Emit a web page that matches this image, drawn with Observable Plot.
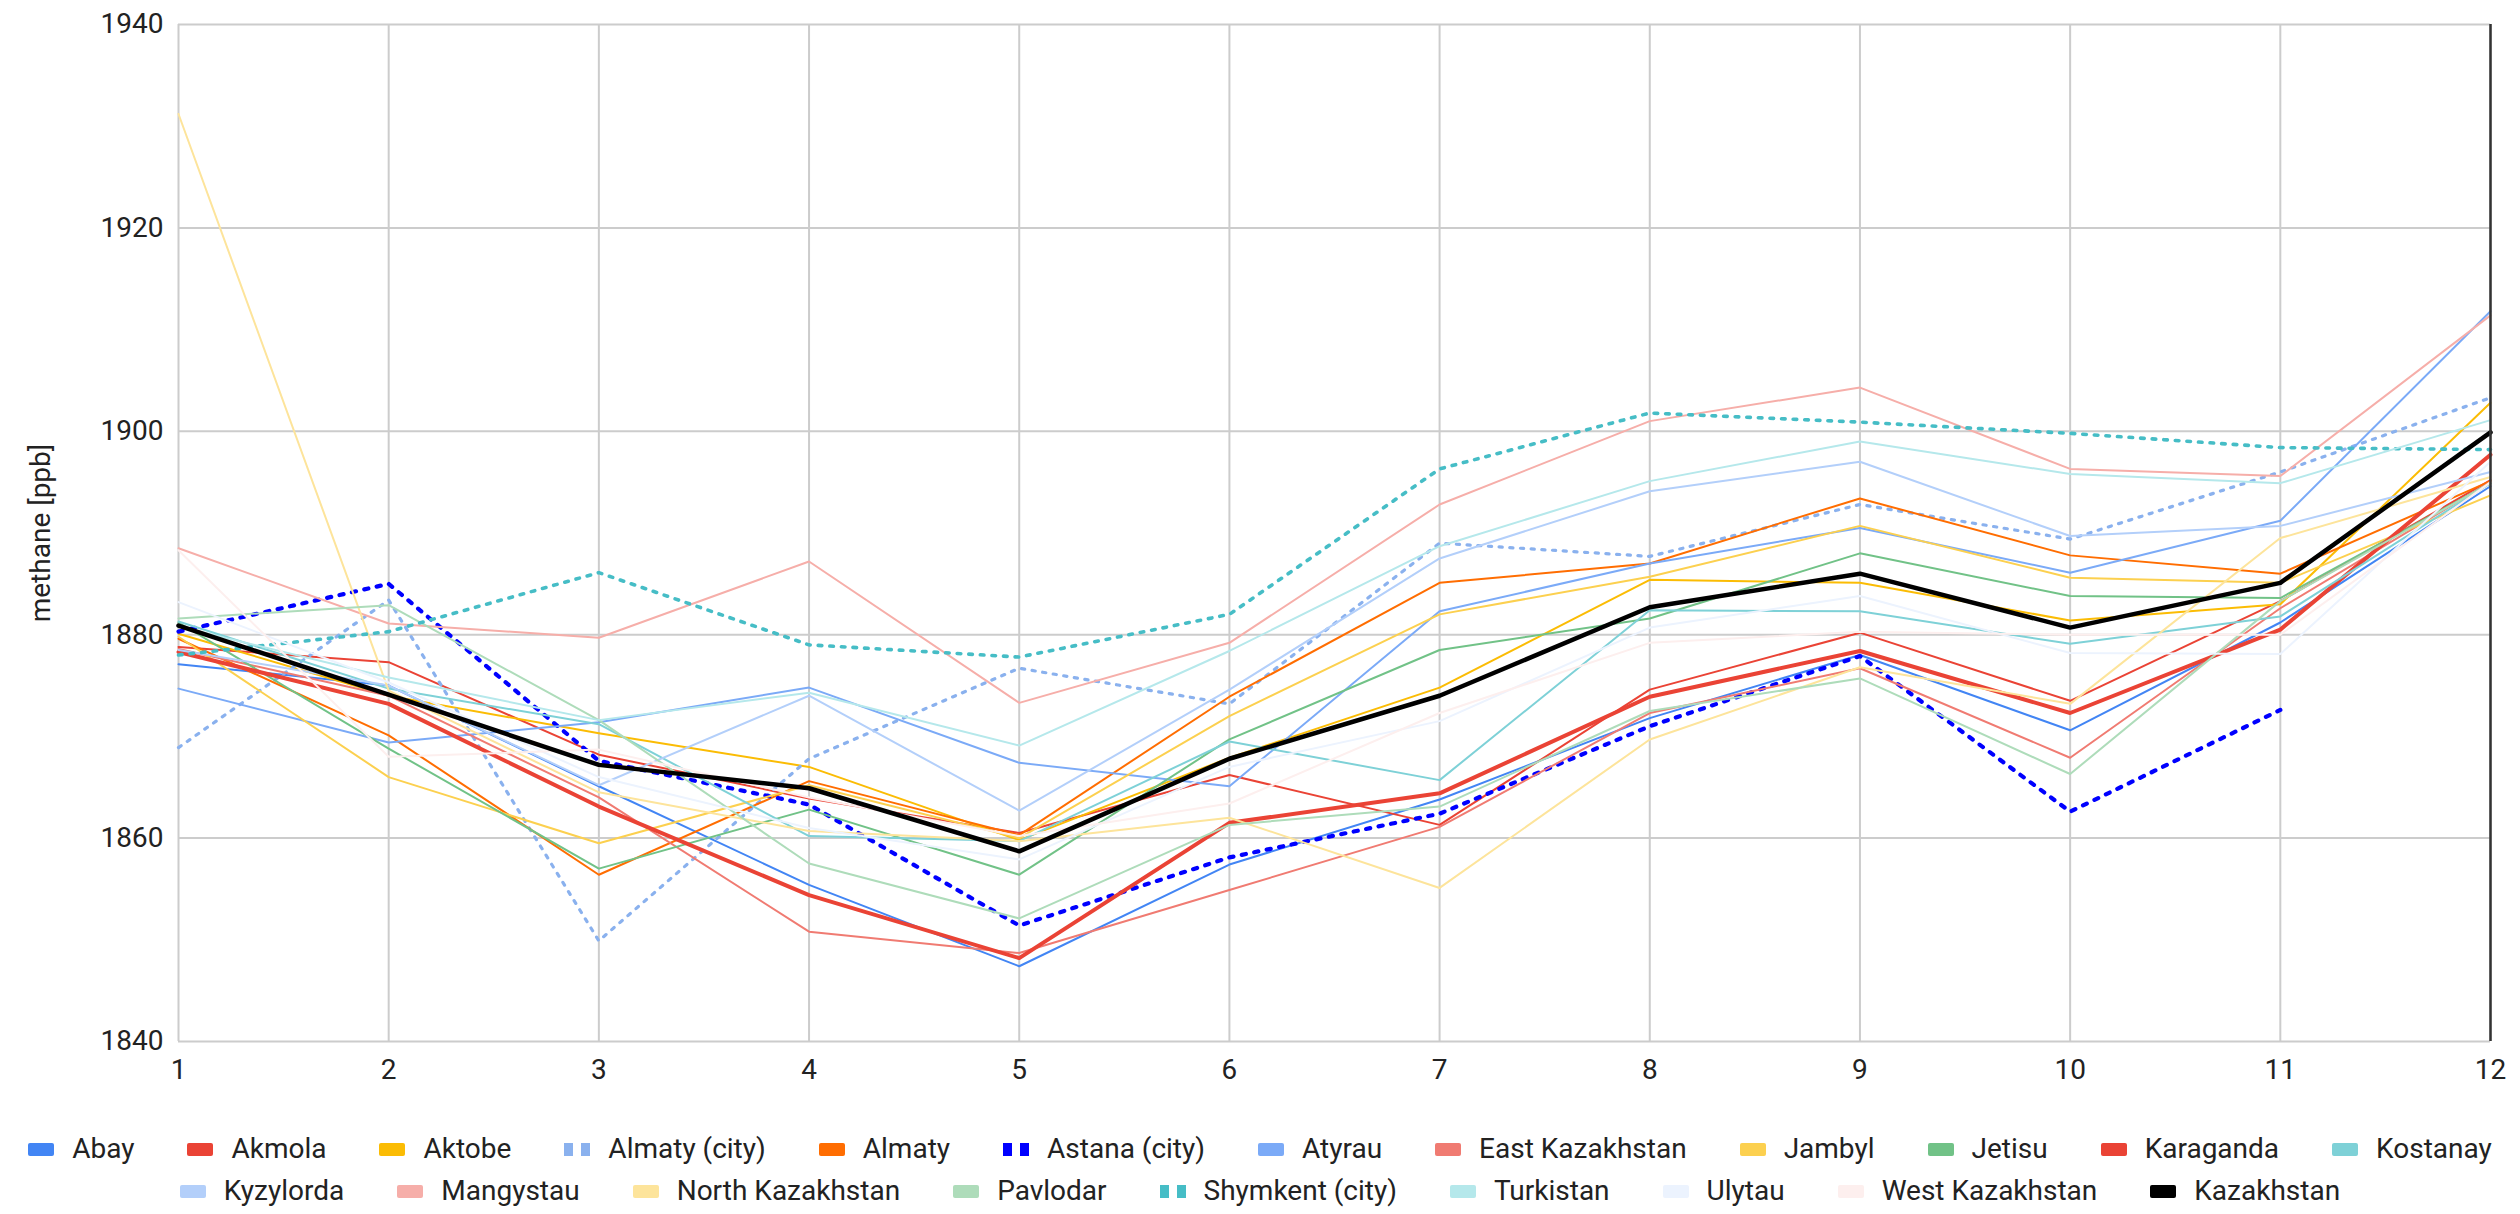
<!DOCTYPE html>
<html>
<head>
<meta charset="utf-8">
<script src="https://cdn.jsdelivr.net/npm/d3@7"></script>
<script src="https://cdn.jsdelivr.net/npm/@observablehq/plot@0.6"></script>
<style>
  html, body { margin: 0; padding: 0; background: #fff; }
  body { width: 2520px; font-family: Roboto, "Liberation Sans", sans-serif; color: #222; }
  #chart svg { display: block; }
  #legend { margin-top: 28px; }
  .legend-row { display: flex; justify-content: center; align-items: center; gap: 53px; height: 42px; }
  .legend-item { display: flex; align-items: center; gap: 18px; font-size: 28px; line-height: 1; white-space: nowrap; }
  .swatch { width: 26px; height: 13px; border-radius: 2px; flex: none; }
  .swatch-dotted { width: 26px; height: 13px; flex: none; display: flex; justify-content: space-between; }
  .swatch-dotted span { width: 9px; height: 13px; display: block; }
</style>
</head>
<body>
<div id="chart"></div>
<div id="legend"></div>
<script>
// Monthly mean methane concentration (ppb) by region of Kazakhstan
const months = [1, 2, 3, 4, 5, 6, 7, 8, 9, 10, 11, 12];
const yTicks = [1840, 1860, 1880, 1900, 1920, 1940];

const abay        = [1877.1, 1875.0, 1865.1, 1855.4, 1847.4, 1857.4, 1863.8, 1871.8, 1878.0, 1870.6, 1881.2, 1894.6];
const akmola      = [1878.8, 1877.3, 1868.2, 1863.9, 1860.5, 1866.2, 1861.3, 1874.6, 1880.2, 1873.5, 1883.3, 1895.2];
const aktobe      = [1880.1, 1874.0, 1870.3, 1867.0, 1859.8, 1867.9, 1874.8, 1885.4, 1885.1, 1881.4, 1883.0, 1902.8];
const almatyCity  = [1868.9, 1883.4, 1849.9, 1867.8, 1876.7, 1873.2, 1889.0, 1887.7, 1892.8, 1889.4, 1896.0, 1903.3];
const almaty      = [1879.6, 1870.1, 1856.4, 1865.6, 1860.3, 1873.9, 1885.1, 1887.0, 1893.4, 1887.8, 1886.0, 1895.1];
const astanaCity  = [1880.3, 1885.0, 1867.6, 1863.3, 1851.4, 1858.1, 1862.4, 1871.0, 1877.9, 1862.6, 1872.6, null];
const atyrau      = [1874.7, 1869.4, 1871.4, 1874.8, 1867.4, 1865.1, 1882.3, 1887.0, 1890.5, 1886.1, 1891.2, 1911.8];
const eastKaz     = [1878.6, 1874.0, 1864.0, 1850.8, 1848.7, 1854.9, 1861.1, 1872.3, 1876.7, 1867.9, 1882.6, 1895.0];
const jambyl      = [1879.8, 1866.0, 1859.5, 1865.2, 1860.0, 1872.0, 1882.0, 1885.7, 1890.7, 1885.6, 1885.1, 1893.7];
const jetisu      = [1881.2, 1868.8, 1857.0, 1862.8, 1856.4, 1869.7, 1878.5, 1881.6, 1888.0, 1883.8, 1883.6, 1894.9];
const karaganda   = [1878.3, 1873.2, 1863.1, 1854.4, 1848.2, 1861.5, 1864.4, 1873.9, 1878.4, 1872.3, 1880.5, 1897.7];
const kostanay    = [1881.3, 1874.7, 1871.2, 1860.2, 1859.7, 1869.5, 1865.7, 1882.4, 1882.3, 1879.1, 1881.8, 1894.9];
const kyzylorda   = [1878.5, 1875.0, 1865.2, 1874.0, 1862.7, 1874.6, 1887.5, 1894.1, 1897.0, 1889.7, 1890.7, 1896.0];
const mangystau   = [1888.5, 1881.1, 1879.7, 1887.2, 1873.3, 1879.2, 1892.8, 1901.0, 1904.3, 1896.3, 1895.6, 1911.4];
const northKaz    = [1931.2, 1874.5, 1864.5, 1860.7, 1859.7, 1862.0, 1855.1, 1869.7, 1876.8, 1873.2, 1889.5, 1895.5];
const pavlodar    = [1881.6, 1882.9, 1871.6, 1857.5, 1852.1, 1861.3, 1863.1, 1872.5, 1875.7, 1866.3, 1883.3, 1894.9];
const shymkentCity= [1878.0, 1880.3, 1886.1, 1879.0, 1877.8, 1882.0, 1896.3, 1901.8, 1900.9, 1899.8, 1898.4, 1898.2];
const turkistan   = [1880.8, 1875.8, 1871.6, 1874.3, 1869.1, 1878.4, 1888.7, 1895.1, 1899.0, 1895.8, 1894.9, 1901.1];
const ulytau      = [1883.2, 1875.3, 1866.0, 1861.0, 1857.9, 1867.0, 1871.5, 1880.7, 1883.8, 1878.2, 1878.1, 1897.0];
const westKaz     = [1888.3, 1868.0, 1868.7, 1864.0, 1860.2, 1863.4, 1872.3, 1879.2, 1880.3, 1880.0, 1880.0, 1895.0];
const kazakhstan  = [1880.9, 1874.1, 1867.2, 1864.9, 1858.7, 1867.8, 1874.0, 1882.7, 1886.0, 1880.7, 1885.1, 1899.9];

// Series styling, in legend order
const series = [
  {name: "Abay",             values: abay,         color: "#4285F4", width: 2},
  {name: "Akmola",           values: akmola,       color: "#EA4335", width: 2},
  {name: "Aktobe",           values: aktobe,       color: "#FBBC04", width: 2},
  {name: "Almaty (city)",    values: almatyCity,   color: "#8AB1EE", width: 3.2, dash: "3.2,7.5"},
  {name: "Almaty",           values: almaty,       color: "#FF6D01", width: 2},
  {name: "Astana (city)",    values: astanaCity,   color: "#0000FF", width: 4.2, dash: "4.2,8.5"},
  {name: "Atyrau",           values: atyrau,       color: "#7BAAF7", width: 2},
  {name: "East Kazakhstan",  values: eastKaz,      color: "#F07B72", width: 2},
  {name: "Jambyl",           values: jambyl,       color: "#FCD04F", width: 2},
  {name: "Jetisu",           values: jetisu,       color: "#71C287", width: 2},
  {name: "Karaganda",        values: karaganda,    color: "#EA4335", width: 4},
  {name: "Kostanay",         values: kostanay,     color: "#7ED1D7", width: 2},
  {name: "Kyzylorda",        values: kyzylorda,    color: "#B3CFFA", width: 2},
  {name: "Mangystau",        values: mangystau,    color: "#F6AEA9", width: 2},
  {name: "North Kazakhstan", values: northKaz,     color: "#FDE49B", width: 2},
  {name: "Pavlodar",         values: pavlodar,     color: "#AEDCBA", width: 2},
  {name: "Shymkent (city)",  values: shymkentCity, color: "#46BDC6", width: 3.6, dash: "3.6,8"},
  {name: "Turkistan",        values: turkistan,    color: "#B5E8EB", width: 2},
  {name: "Ulytau",           values: ulytau,       color: "#ECF3FE", width: 2},
  {name: "West Kazakhstan",  values: westKaz,      color: "#FDEFEE", width: 2},
  {name: "Kazakhstan",       values: kazakhstan,   color: "#000000", width: 4.5}
];

const rows = series.flatMap(s => s.values.map((v, i) => ({region: s.name, month: months[i], value: v})));

const lineMarks = series.map(s => Plot.line(rows.filter(d => d.region === s.name), {
  x: "month",
  y: "value",
  stroke: s.color,
  strokeWidth: s.width,
  strokeDasharray: s.dash,
  strokeLinejoin: "round"
}));

const chart = Plot.plot({
  width: 2520,
  height: 1100,
  marginLeft: 178,
  marginRight: 30,
  marginTop: 24,
  marginBottom: 59,
  style: {fontFamily: "Roboto, 'Liberation Sans', sans-serif", fontSize: "28px", color: "#222", background: "#fff", overflow: "visible"},
  x: {domain: [1, 12]},
  y: {domain: [1840, 1940]},
  marks: [
    Plot.gridY(yTicks, {stroke: "#cccccc", strokeOpacity: 1, strokeWidth: 2}),
    Plot.gridX(months, {stroke: "#cccccc", strokeOpacity: 1, strokeWidth: 2}),
    ...lineMarks,
    Plot.ruleX([12], {stroke: "#333", strokeWidth: 2.5}),
    Plot.axisY(yTicks, {
      tickSize: 0, tickPadding: 15, fontSize: 28,
      tickFormat: d => String(d),
      label: "methane [ppb]", labelAnchor: "center", labelArrow: "none", labelOffset: 148
    }),
    Plot.axisX(months, {
      tickSize: 0, tickPadding: 18, fontSize: 28,
      tickFormat: d => String(d),
      label: null
    })
  ]
});
document.getElementById("chart").append(chart);

// Legend: two centered rows of swatches and names
const legend = document.getElementById("legend");
[series.slice(0, 12), series.slice(12)].forEach(group => {
  const row = document.createElement("div");
  row.className = "legend-row";
  group.forEach(s => {
    const item = document.createElement("div");
    item.className = "legend-item";
    let sw;
    if (s.dash) {
      sw = document.createElement("div");
      sw.className = "swatch-dotted";
      for (let k = 0; k < 2; k++) {
        const dot = document.createElement("span");
        dot.style.background = s.color;
        sw.append(dot);
      }
    } else {
      sw = document.createElement("div");
      sw.className = "swatch";
      sw.style.background = s.color;
    }
    const label = document.createElement("span");
    label.textContent = s.name;
    item.append(sw, label);
    row.append(item);
  });
  legend.append(row);
});
</script>
</body>
</html>
